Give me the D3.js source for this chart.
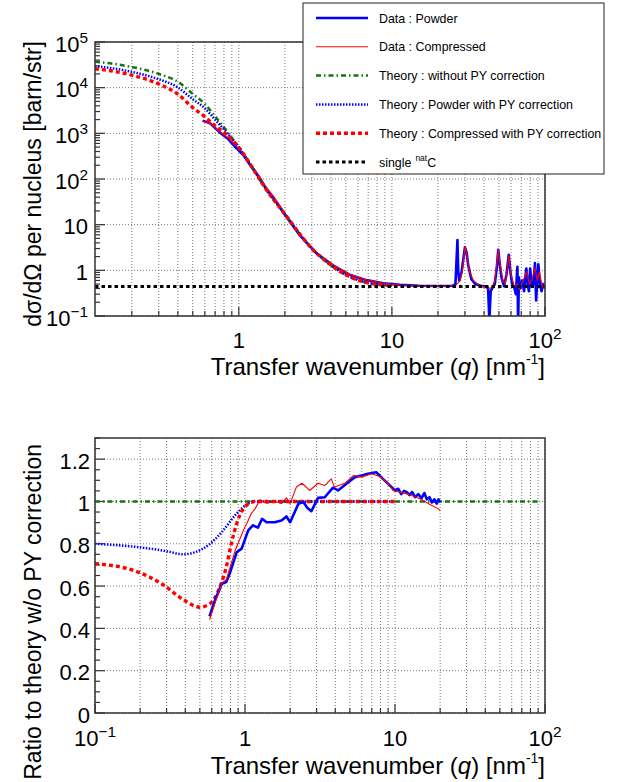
<!DOCTYPE html>
<html>
<head>
<meta charset="utf-8">
<script src="https://cdn.jsdelivr.net/npm/d3@7"></script>
<style>
body { margin: 0; background: #fff; }
svg { display: block; font-family: "Liberation Sans", Arial, Helvetica, sans-serif; }
</style>
</head>
<body>
<script>
// ---- top panel: cross section ----
var thQ      = [0.115, 0.15, 0.2, 0.25, 0.3, 0.4, 0.5, 0.6, 0.7, 0.8, 0.9, 1.0, 1.2, 1.5, 2, 3, 4, 5, 7, 10];
var thFree   = [37000, 33500, 28300, 24000, 20000, 13500, 7300, 4400, 2350, 1350, 800, 500, 200, 61, 17, 3.0, 1.3, 0.8, 0.53, 0.465];
var thPowder = [29500, 26500, 22200, 18500, 15300, 10100, 5600, 3540, 2000, 1220, 760, 490, 200, 61, 17, 3.0, 1.3, 0.8, 0.53, 0.465];
var thComp   = [25900, 23000, 18800, 15200, 12000, 7200, 3650, 2310, 1460, 1050, 730, 488, 200, 61, 17, 3.0, 1.3, 0.8, 0.53, 0.465];

var powderQ = [0.58, 0.65, 0.75, 0.85, 0.95, 1.07, 1.2, 1.35, 1.5, 1.7, 2.0, 2.5, 3.2, 4.1, 5.3, 6.8, 8.8, 11.3, 15, 20, 25,
  26, 26.5, 26.8, 27.1, 27.5, 28.5, 29.3, 30, 30.8, 31.5, 33, 35, 38, 41, 42.5, 43.3, 44.2, 45.5, 47, 48.5, 49.5, 50.5, 52, 54,
  56, 58, 59.5, 61, 63, 64.5, 66, 66.8, 67.5, 69, 71, 73, 75.5, 77, 78.5, 80, 82, 84, 86, 87.5, 89, 90.5, 92.5, 95, 97, 100];
var powderV = [1900, 1650, 1050, 760, 500, 336, 190, 112, 64, 37, 16.5, 5.9, 2.4, 1.3, 0.8, 0.61, 0.52, 0.48, 0.46, 0.455, 0.46,
  0.5, 2.0, 4.6, 1.0, 0.6, 0.9, 1.8, 3.2, 2.4, 1.3, 0.65, 0.5, 0.46, 0.44, 0.4, 0.08, 0.35, 0.42, 0.5, 1.2, 2.8, 1.5, 0.7, 0.45,
  0.8, 2.2, 0.9, 0.5, 0.42, 0.3, 1.2, 0.07, 0.7, 0.4, 0.6, 0.35, 1.1, 0.5, 0.35, 1.1, 0.45, 0.5, 1.45, 0.22, 0.6, 1.35, 0.5, 0.35, 0.5, 0.42];

var compQ = [0.58, 0.65, 0.75, 0.85, 0.95, 1.07, 1.2, 1.35, 1.5, 1.7, 2.0, 2.5, 3.2, 4.1, 5.3, 6.8, 8.8, 11.3, 15, 20, 26,
  28, 29, 30, 31, 32, 34, 37, 40, 43, 45, 47, 49.5, 51, 53, 55, 58, 60, 63, 66, 68, 72, 76, 79, 82, 86, 89, 92, 96, 100];
var compV = [1850, 1650, 1080, 800, 550, 370, 205, 120, 68, 40, 18, 6.2, 2.5, 1.33, 0.82, 0.62, 0.52, 0.475, 0.455, 0.45, 0.46,
  0.6, 1.1, 3.3, 2.0, 1.0, 0.6, 0.48, 0.44, 0.4, 0.42, 0.6, 2.8, 1.3, 0.6, 0.5, 2.1, 0.8, 0.45, 0.5, 0.38, 0.6, 0.95, 0.5, 0.6, 1.15, 0.6, 0.9, 0.45, 0.38];

var singleC = 0.44;

// ---- bottom panel: ratio to theory without PY ----
var ratioFreeQ = [0.1, 93];
var ratioFree  = [1, 1];
var ratioPowderThQ = [0.1, 0.194, 0.3, 0.388, 0.464, 0.585, 0.70, 0.858, 1.0, 1.166, 2, 5, 10];
var ratioPowderTh  = [0.80, 0.784, 0.765, 0.75, 0.76, 0.80, 0.855, 0.934, 0.98, 1.0, 1.0, 1.0, 1.0];
var ratioCompThQ = [0.1, 0.194, 0.278, 0.388, 0.5, 0.585, 0.68, 0.75, 0.81, 0.88, 0.975, 1.166, 2, 5, 10];
var ratioCompTh  = [0.706, 0.666, 0.611, 0.536, 0.50, 0.517, 0.595, 0.69, 0.80, 0.895, 0.965, 1.0, 1.0, 1.0, 1.0];

var ratioPowderQ = [0.58, 0.63, 0.70, 0.75, 0.79, 0.88, 0.95, 1.05, 1.13, 1.22, 1.3, 1.39, 1.58, 1.75, 1.89, 2.0, 2.27, 2.45,
  2.6, 2.77, 3.07, 3.4, 3.86, 4.17, 4.74, 5.4, 6.0, 6.6, 7.5, 8.3, 8.8, 10, 10.5, 11, 11.5, 12, 12.5, 13, 13.6, 14.3, 15, 15.7,
  16.3, 17, 17.6, 18.3, 19, 19.5, 20];
var ratioPowder  = [0.457, 0.532, 0.611, 0.619, 0.658, 0.76, 0.777, 0.863, 0.887, 0.876, 0.918, 0.902, 0.902, 0.91, 0.929, 0.902, 0.989, 0.997,
  0.97, 0.954, 1.017, 1.02, 1.065, 1.052, 1.084, 1.115, 1.123, 1.131, 1.138, 1.107, 1.09, 1.052, 1.06, 1.035, 1.05, 1.044, 1.03, 1.045, 1.02, 1.035, 1.015, 1.04,
  1.01, 1.02, 0.995, 1.01, 0.99, 1.01, 0.995];
var ratioCompQ = [0.58, 0.63, 0.70, 0.75, 0.86, 0.975, 1.05, 1.10, 1.166, 1.26, 1.39, 1.6, 1.75, 1.89, 2.0, 2.2, 2.4, 2.7, 3.07,
  3.4, 3.76, 3.95, 4.64, 5.29, 6.0, 6.97, 7.9, 9.0, 9.7, 12, 14.7, 17.1, 19.5, 20];
var ratioComp  = [0.441, 0.517, 0.614, 0.63, 0.768, 0.863, 0.91, 0.942, 0.965, 1.008, 0.992, 1.0, 0.99, 1.017, 0.99, 1.068, 1.086, 1.052, 1.086,
  1.075, 1.107, 1.068, 1.086, 1.123, 1.115, 1.131, 1.118, 1.084, 1.052, 1.036, 1.013, 0.986, 0.965, 0.955];

// tick labels
var topYTicks  = [0.1, 1, 10, 100, 1e3, 1e4, 1e5];
var topYLabels = [["10", "\u22121"], ["1", ""], ["10", ""], ["10", "2"], ["10", "3"], ["10", "4"], ["10", "5"]];
var topXTicks  = [1, 10, 100];
var topXLabels = [["1", ""], ["10", ""], ["10", "2"]];
var botYTicks  = [0, 0.2, 0.4, 0.6, 0.8, 1, 1.2];
var botYLabels = ["0", "0.2", "0.4", "0.6", "0.8", "1", "1.2"];
var botXTicks  = [0.1, 1, 10, 100];
var botXLabels = [["10", "\u22121"], ["1", ""], ["10", ""], ["10", "2"]];

var legendItems = ["Data : Powder", "Data : Compressed", "Theory : without PY correction",
  "Theory : Powder with PY correction", "Theory : Compressed with PY correction", "single"];

// ---- styles ----
var st = {
  powder:  {stroke: "#0000ff", width: 2.6, dash: null},
  comp:    {stroke: "#ff0000", width: 1.1, dash: null},
  free:    {stroke: "#127512", width: 2.5, dash: "5,3,1.5,3"},
  pyPow:   {stroke: "#0000ff", width: 2.5, dash: "1.5,1.5"},
  pyComp:  {stroke: "#ff0000", width: 3.4, dash: "4,3"},
  single:  {stroke: "#000000", width: 3, dash: "3.5,3"}
};

var svg = d3.select("body").append("svg").attr("width", 619).attr("height", 782);

var p1 = {l: 95, r: 545, t: 42, b: 316};
var p2 = {l: 95, r: 545, t: 438, b: 713};

var x1 = d3.scaleLog().domain([0.115, 100]).range([p1.l, p1.r]);
var y1 = d3.scaleLog().domain([0.1, 1e5]).range([p1.b, p1.t]);
var x2 = d3.scaleLog().domain([0.1, 100]).range([p2.l, p2.r]);
var y2 = d3.scaleLinear().domain([0, 1.3]).range([p2.b, p2.t]);

function logSteps(lo, hi) {
  var out = [];
  for (var e = -2; e <= 5; e++)
    for (var k = 1; k < 10; k++) {
      var v = k * Math.pow(10, e);
      if (v >= lo * 0.9999 && v <= hi * 1.0001) out.push(v);
    }
  return out;
}

function zip(q, v) { return q.map(function(d, i) { return [d, v[i]]; }); }

function supText(sel, base, exp, fs) {
  sel.text(base);
  if (exp) sel.append("tspan").attr("dy", -9).style("font-size", (fs * 0.7) + "px").text(exp);
}

function panel(p, x, y, xMinor, yGrid, yMinor, id) {
  var g = svg.append("g");
  g.append("defs").append("clipPath").attr("id", id)
    .append("rect").attr("x", p.l).attr("y", p.t).attr("width", p.r - p.l).attr("height", p.b - p.t);

  // grid
  g.selectAll(".gx").data(xMinor).enter().append("line")
    .attr("x1", function(d) { return x(d); }).attr("x2", function(d) { return x(d); })
    .attr("y1", p.t).attr("y2", p.b)
    .attr("stroke", "#777").attr("stroke-width", 1).attr("stroke-dasharray", "1,2");
  g.selectAll(".gy").data(yGrid).enter().append("line")
    .attr("y1", function(d) { return y(d); }).attr("y2", function(d) { return y(d); })
    .attr("x1", p.l).attr("x2", p.r)
    .attr("stroke", "#777").attr("stroke-width", 1).attr("stroke-dasharray", "1,2");

  // ticks (inside, left and bottom)
  g.selectAll(".tx").data(xMinor).enter().append("line")
    .attr("x1", function(d) { return x(d); }).attr("x2", function(d) { return x(d); })
    .attr("y1", p.b).attr("y2", function(d) { return Math.abs(Math.log10(d) - Math.round(Math.log10(d))) < 1e-6 ? p.b - 9 : p.b - 5; })
    .attr("stroke", "#333").attr("stroke-width", 1.2);
  g.selectAll(".ty").data(yMinor).enter().append("line")
    .attr("y1", function(d) { return y(d.v); }).attr("y2", function(d) { return y(d.v); })
    .attr("x1", p.l).attr("x2", function(d) { return d.major ? p.l + 10 : p.l + 5; })
    .attr("stroke", "#333").attr("stroke-width", 1.2);

  var plot = g.append("g").attr("clip-path", "url(#" + id + ")");
  g.append("rect").attr("x", p.l).attr("y", p.t).attr("width", p.r - p.l).attr("height", p.b - p.t)
    .attr("fill", "none").attr("stroke", "#333").attr("stroke-width", 1.5);
  return plot;
}

function drawLine(g, data, x, y, s, curve) {
  var line = d3.line().x(function(d) { return x(d[0]); }).y(function(d) { return y(d[1]); });
  if (curve) line.curve(d3.curveMonotoneX);
  g.append("path").datum(data).attr("d", line)
    .attr("fill", "none").attr("stroke", s.stroke).attr("stroke-width", s.width)
    .attr("stroke-dasharray", s.dash).attr("stroke-linejoin", "round");
}

// ---- top panel ----
var yMinor1 = [];
logSteps(0.1, 1e5).forEach(function(v) {
  yMinor1.push({v: v, major: Math.abs(Math.log10(v) - Math.round(Math.log10(v))) < 1e-6});
});
var plot1 = panel(p1, x1, y1, logSteps(0.115, 100), topYTicks, yMinor1, "clip1");

drawLine(plot1, zip(powderQ, powderV), x1, y1, st.powder);
drawLine(plot1, zip(compQ, compV), x1, y1, st.comp);
drawLine(plot1, zip(thQ, thFree), x1, y1, st.free, true);
drawLine(plot1, zip(thQ, thPowder), x1, y1, st.pyPow, true);
drawLine(plot1, zip(thQ, thComp), x1, y1, st.pyComp, true);
drawLine(plot1, [[0.115, singleC], [100, singleC]], x1, y1, st.single);

// ---- bottom panel ----
var yMinor2 = d3.range(0, 1.3001, 0.05).map(function(v) {
  return {v: v, major: Math.abs(v / 0.2 - Math.round(v / 0.2)) < 1e-6};
});
var plot2 = panel(p2, x2, y2, logSteps(0.1, 100), botYTicks, yMinor2, "clip2");

drawLine(plot2, zip(ratioFreeQ, ratioFree), x2, y2, st.free);
drawLine(plot2, zip(ratioPowderThQ, ratioPowderTh), x2, y2, st.pyPow, true);
drawLine(plot2, zip(ratioCompThQ, ratioCompTh), x2, y2, st.pyComp, true);
drawLine(plot2, zip(ratioPowderQ, ratioPowder), x2, y2, st.powder);
drawLine(plot2, zip(ratioCompQ, ratioComp), x2, y2, st.comp);

// ---- tick labels ----
var fs = 22;
topYTicks.forEach(function(v, i) {
  var t = svg.append("text").attr("x", 88).attr("y", y1(v) + 9.5).attr("text-anchor", "end").style("font-size", fs + "px");
  supText(t, topYLabels[i][0], topYLabels[i][1], fs);
});
topXTicks.forEach(function(v, i) {
  var t = svg.append("text").attr("x", x1(v)).attr("y", p1.b + 32).attr("text-anchor", "middle").style("font-size", fs + "px");
  supText(t, topXLabels[i][0], topXLabels[i][1], fs);
});
botYTicks.forEach(function(v, i) {
  svg.append("text").attr("x", 90).attr("y", y2(v) + 9.5).attr("text-anchor", "end").style("font-size", fs + "px").text(botYLabels[i]);
});
botXTicks.forEach(function(v, i) {
  var t = svg.append("text").attr("x", x2(v)).attr("y", p2.b + 33).attr("text-anchor", "middle").style("font-size", fs + "px");
  supText(t, botXLabels[i][0], botXLabels[i][1], fs);
});

// ---- axis titles ----
function xTitle(yb) {
  var t = svg.append("text").attr("x", 545).attr("y", yb).attr("text-anchor", "end").style("font-size", "24px");
  t.append("tspan").text("Transfer wavenumber (");
  t.append("tspan").style("font-style", "italic").text("q");
  t.append("tspan").text(") [nm");
  t.append("tspan").attr("dy", -11).style("font-size", "14px").text("-1");
  t.append("tspan").attr("dy", 11).text("]");
}
xTitle(375);
xTitle(774);

svg.append("text").attr("transform", "translate(41,41) rotate(-90)").attr("text-anchor", "end")
  .style("font-size", "23px").text("d\u03c3/d\u03a9 per nucleus [barn/str]");
svg.append("text").attr("transform", "translate(41,444) rotate(-90)").attr("text-anchor", "end")
  .style("font-size", "23px").text("Ratio to theory w/o PY correction");

// ---- legend ----
var lg = svg.append("g");
lg.append("rect").attr("x", 303).attr("y", 3).attr("width", 301).attr("height", 171)
  .attr("fill", "#fff").attr("stroke", "#222").attr("stroke-width", 1);
var legendStyles = [st.powder, st.comp, st.free, st.pyPow, st.pyComp, st.single];
var legendY = d3.scalePoint().domain(d3.range(legendItems.length)).range([18, 162]);
legendItems.forEach(function(name, i) {
  var s = legendStyles[i];
  var yy = legendY(i);
  lg.append("line").attr("x1", 316).attr("x2", 368).attr("y1", yy).attr("y2", yy)
    .attr("stroke", s.stroke).attr("stroke-width", s.width).attr("stroke-dasharray", s.dash);
  var t = lg.append("text").attr("x", 379).attr("y", yy + 4.5).style("font-size", "12.4px").text(name);
  if (name === "single") {
    t.append("tspan").attr("dx", 4).attr("dy", -6).style("font-size", "8.5px").text("nat");
    t.append("tspan").attr("dy", 6).text("C");
  }
});
</script>
</body>
</html>
